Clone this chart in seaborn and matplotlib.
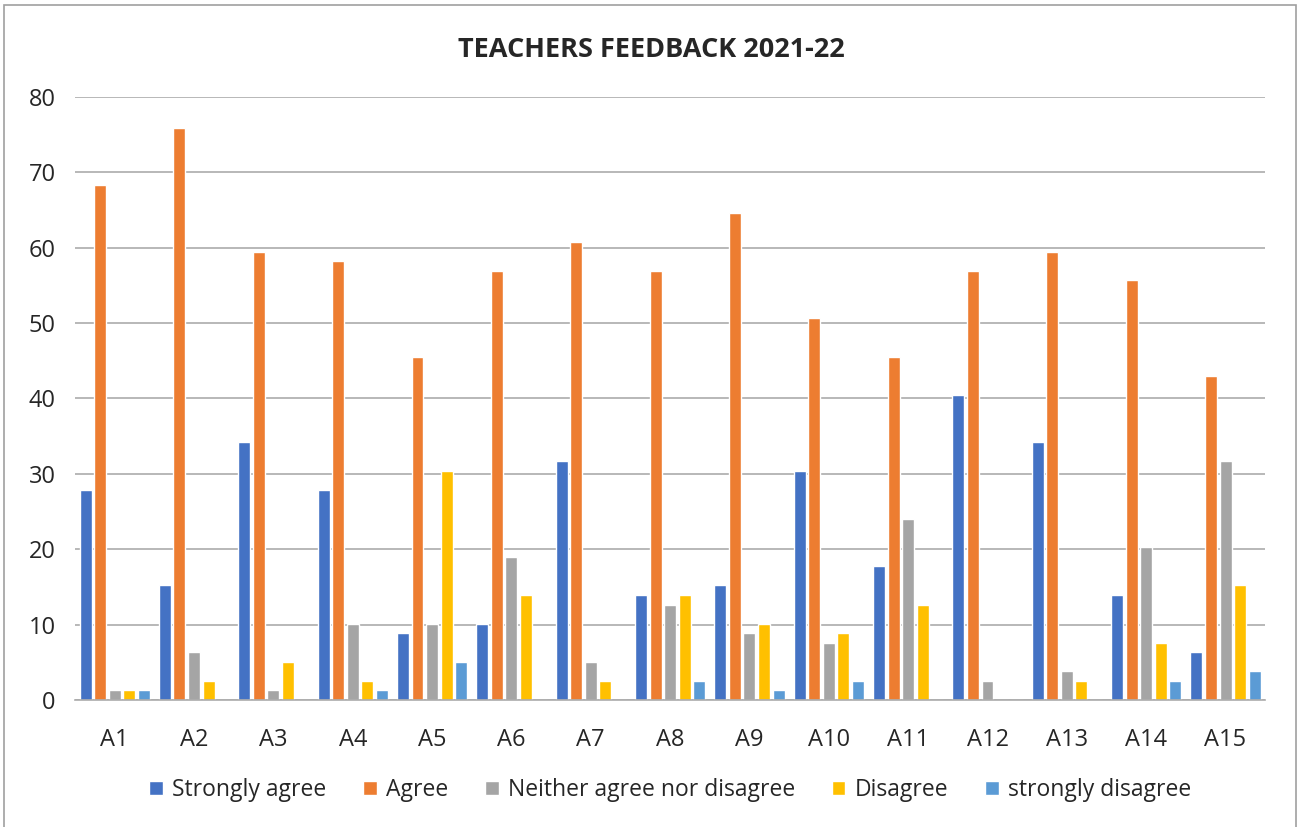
import pandas as pd
import seaborn as sns
import matplotlib.pyplot as plt
from matplotlib.patches import Rectangle

questions = [f"A{i}" for i in range(1, 16)]
responses = ["Strongly agree", "Agree", "Neither agree nor disagree", "Disagree", "strongly disagree"]

strongly_agree = [27.85, 15.19, 34.18, 27.85, 8.86, 10.13, 31.65, 13.92, 15.19, 30.38, 17.72, 40.51, 34.18, 13.92, 6.33]
agree = [68.35, 75.95, 59.49, 58.23, 45.57, 56.96, 60.76, 56.96, 64.56, 50.63, 45.57, 56.96, 59.49, 55.70, 43.04]
neither = [1.27, 6.33, 1.27, 10.13, 10.13, 18.99, 5.06, 12.66, 8.86, 7.59, 24.05, 2.53, 3.80, 20.25, 31.65]
disagree = [1.27, 2.53, 5.06, 2.53, 30.38, 13.92, 2.53, 13.92, 10.13, 8.86, 12.66, 0, 2.53, 7.59, 15.19]
strongly_disagree = [1.27, 0, 0, 1.27, 5.06, 0, 0, 2.53, 1.27, 2.53, 0, 0, 0, 2.53, 3.80]

colors = ["#4472C4", "#ED7D31", "#A5A5A5", "#FFC000", "#5B9BD5"]

rows = []
for resp, vals in zip(responses, [strongly_agree, agree, neither, disagree, strongly_disagree]):
    for q, v in zip(questions, vals):
        rows.append({"Question": q, "Response": resp, "Percent": v})
df = pd.DataFrame(rows)

sns.set_style("white")
plt.rcParams['font.family'] = ['Open Sans', 'DejaVu Sans']

fig = plt.figure(figsize=(13.03, 8.27), dpi=100)
ax = fig.add_axes([0.0576, 0.1536, 0.9134, 0.7291])

sns.barplot(data=df, x="Question", y="Percent", hue="Response", hue_order=responses,
            palette=colors, width=0.92, gap=0.18, ax=ax, saturation=1, legend=True)

ax.set_ylim(0, 80)
ax.set_yticks(range(0, 81, 10))
ax.yaxis.grid(True, color="#ABABAB", linewidth=1.2)
ax.set_axisbelow(True)
for s in ["top", "right", "left"]:
    ax.spines[s].set_visible(False)
ax.spines["bottom"].set_color("#ABABAB")
ax.spines["bottom"].set_linewidth(1.2)
ax.tick_params(axis="x", length=0, labelsize=17, pad=20)
ax.tick_params(axis="y", length=0, labelsize=17, pad=14)
ax.set_xlabel("")
ax.set_ylabel("")

fig.text(0.5, 0.94, "TEACHERS FEEDBACK 2021-22", ha="center", va="center",
         fontsize=19.5, fontweight="bold")

ax.legend(loc="upper center", bbox_to_anchor=(0.5, -0.095), ncol=5, frameon=False,
          fontsize=16.5, handlelength=0.6, handleheight=0.6, handletextpad=0.4, columnspacing=1.6)

fig.patches.append(Rectangle((0.003, -0.01), 0.992, 1.004, transform=fig.transFigure,
                             fill=False, edgecolor="#A0A0A0", linewidth=1.2))

fig.savefig("out.png", dpi=100)
